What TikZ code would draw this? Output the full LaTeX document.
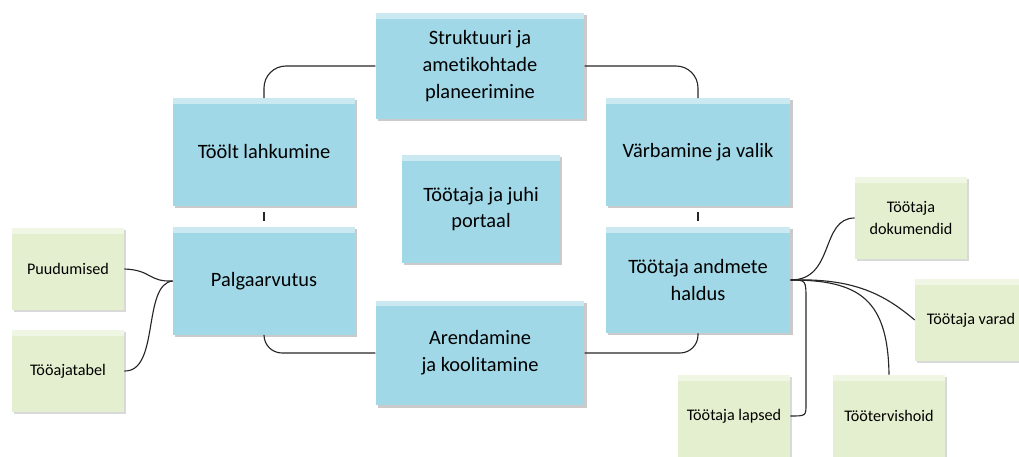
\documentclass[tikz,border=0pt]{standalone}
\usepackage{fontspec}
\setmainfont{Carlito}[Ligatures=NoCommon]
\usepackage{tikz}
\usetikzlibrary{calc}
\usetikzlibrary{shadows, positioning}
\definecolor{boxblue}{HTML}{A0D8E7}
\definecolor{boxgreen}{HTML}{E4EFCF}
\tikzset{
  bevel/.style={path picture={\fill[white,opacity=0.45] (path picture bounding box.north west) rectangle ([yshift=-4pt]path picture bounding box.north east);}},
  bluebox/.style={fill=boxblue, inner sep=0pt, align=center, bevel,
    drop shadow={shadow xshift=1.5pt, shadow yshift=-1.5pt, opacity=0.35, fill=black!60},
    font=\fontsize{14.5}{19}\selectfont},
  greenbox/.style={fill=boxgreen, inner sep=0pt, align=center, bevel,
    minimum width=2.8cm, minimum height=2.05cm,
    drop shadow={shadow xshift=1.5pt, shadow yshift=-1.5pt, opacity=0.3, fill=black!50},
    font=\fontsize{11.5}{15}\selectfont},
  link/.style={draw=black!85, line width=0.8pt}
}
\begin{document}
\begin{tikzpicture}[x=0.025cm, y=-0.025cm]
				\useasboundingbox (0,0) rectangle (1019,457);
				% blue process boxes
				\draw (480,66) node (strukt) [bluebox, minimum width=5.22cm, minimum height=2.65cm] {Struktuuri ja\\ametikohtade\\planeerimine};
				\draw (264,152) node (lahk) [bluebox, minimum width=4.55cm, minimum height=2.68cm] {Töölt lahkumine};
				\draw (698,152) node (varb) [bluebox, minimum width=4.62cm, minimum height=2.68cm] {Värbamine ja valik};
				\draw (481,209) node (portaal) [bluebox, minimum width=3.95cm, minimum height=2.68cm] {Töötaja ja juhi\\portaal};
				\draw (264,281) node (palk) [bluebox, minimum width=4.55cm, minimum height=2.68cm] {Palgaarvutus};
				\draw (698,280) node (andm) [bluebox, minimum width=4.62cm, minimum height=2.65cm] {Töötaja andmete\\haldus};
				\draw (480,353) node (arend) [bluebox, minimum width=5.22cm, minimum height=2.62cm] {Arendamine\\ ja koolitamine};

				% green detail boxes
				\draw (68,269) node (puud) [greenbox] {Puudumised};
				\draw (68,371) node (tabel) [greenbox] {Tööajatabel};
				\draw (911,218) node (dok) [greenbox] {Töötaja\\dokumendid};
				\draw (971,320) node (varad) [greenbox] {Töötaja varad};
				\draw (734,416) node (laps) [greenbox] {Töötaja lapsed};
				\draw (889,416) node (terv) [greenbox] {Töötervishoid};

				% ring of processes
				\draw [link, rounded corners=0.55cm] (strukt.west) -| (lahk.north);
				\draw [link, rounded corners=0.55cm] (strukt.east) -| (varb.north);
				\draw [link, shorten <=4pt, shorten >=4pt] (lahk) -- (palk);
				\draw [link, shorten <=4pt, shorten >=4pt] (varb) -- (andm);
				\draw [link, rounded corners=0.45cm] (palk.south) |- (arend.west);
				\draw [link, rounded corners=0.45cm] (arend.east) -| (andm.south);

				% details
				\draw [link] (puud.east) .. controls (152,270) and (148,282) .. (palk.west);
				\draw [link] (tabel.east) .. controls (160,372) and (142,284) .. (palk.west);
				\draw [link] (andm.east) .. controls (835,280) and (820,218) .. (dok.west);
				\draw [link] (andm.east) .. controls (855,278) and (885,295) .. (varad.west);
				\draw [link] (andm.east) .. controls (860,280) and (888,300) .. (terv.north);
				\draw [link] (andm.east) .. controls (806,280) .. (806,300) -- (806,404) .. controls (806,416) .. (laps.east);
			\end{tikzpicture}
\end{document}
